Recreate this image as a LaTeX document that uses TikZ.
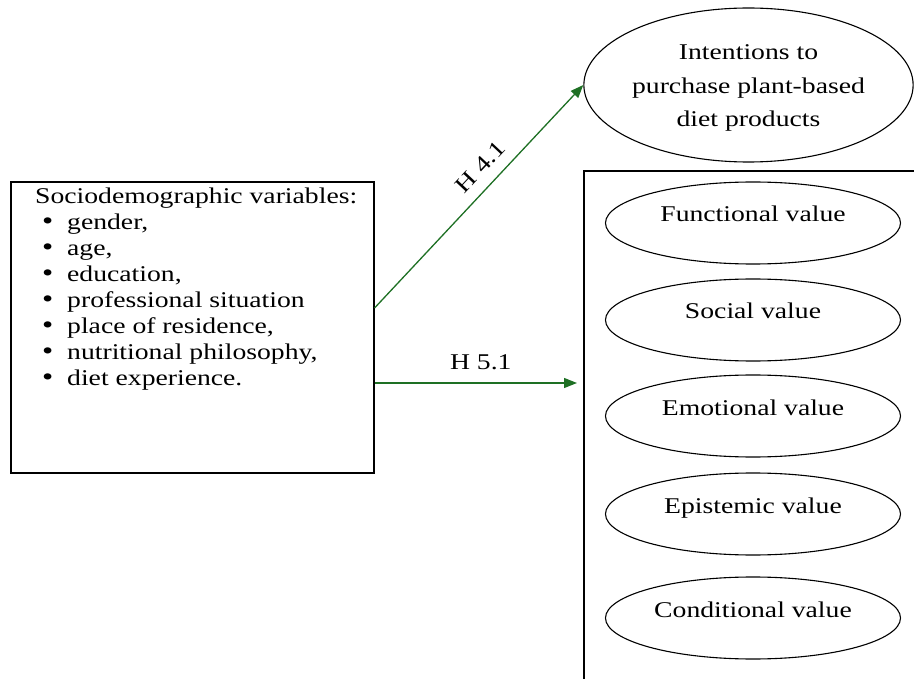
\documentclass[tikz,border=0pt]{standalone}
\usepackage{fontspec}
\setmainfont{Liberation Serif}[FakeStretch=1.23]
\usetikzlibrary{arrows.meta,shapes.geometric}
\definecolor{hypgreen}{RGB}{30,112,36}
\newcommand{\bulletitem}{\makebox[32pt][l]{\hspace{7pt}{\fontsize{26}{26}\selectfont\textbullet}}}
\begin{document}
\begin{tikzpicture}[x=1pt,y=-1pt,
  txt/.style={font=\fontsize{22.5}{26}\selectfont, inner sep=0pt},
  framebox/.style={draw, line width=1.1pt, inner sep=0pt},
  construct/.style={ellipse, draw, line width=1.1pt, inner sep=0pt,
    font=\fontsize{22.5}{26}\selectfont},
  valueell/.style={construct, minimum width=295pt, minimum height=82pt,
    text height=15pt, text depth=17pt},
  hyp/.style={draw=hypgreen, line width=1.3pt,
    -{Triangle[length=13pt,width=10pt]}, fill=none},
  hyplabel/.style={font=\fontsize{22.5}{26}\selectfont, inner sep=0pt, text=black},
]
\useasboundingbox (0,0) rectangle (914,679);
\clip (0,0) rectangle (914,679);

% sociodemographic variables
\node[framebox, minimum width=363pt, minimum height=291pt] (socio) at (192.5,327.5) {};
\node[txt, anchor=north west, align=left] (sociotext) at (35,188)
  {Sociodemographic variables:\\
   \bulletitem gender,\\
   \bulletitem age,\\
   \bulletitem education,\\
   \bulletitem professional situation\\
   \bulletitem place of residence,\\
   \bulletitem nutritional philosophy,\\
   \bulletitem diet experience.};

% purchase intentions
\node[construct, minimum width=327pt, minimum height=154pt, align=center,
  font=\fontsize{22.5}{33.5}\selectfont] (intent) at (748.5,85)
  {\rule{0pt}{21pt}Intentions to\\purchase plant-based\\diet products};

% consumption values (open frame)
\coordinate (valtr) at (914,171);
\coordinate (valtl) at (584,171);
\coordinate (valbl) at (584,679);
\draw[line width=1.1pt] (valtr) -- (valtl) -- (valbl);

\node[valueell] (functional) at (753,223) {Functional value};
\node[valueell] (social) at (753,320) {Social value};
\node[valueell] (emotional) at (753,416) {Emotional value};
\node[valueell] (epistemic) at (753,514) {Epistemic value};
\node[valueell] (conditional) at (753,618) {Conditional value};

% hypotheses
\coordinate (h4start) at (socio.east |- 0,308);
\coordinate (h5start) at (socio.east |- 0,383);
\coordinate (h5end) at (577,383);
\draw[hyp] (h4start) -- (intent.west)
  node[hyplabel, sloped, pos=0.575, above=11pt] (h41) {H 4.1};
\draw[hyp] (h5start) -- (h5end)
  node[hyplabel, pos=0.525, above=12.5pt] (h51) {H 5.1};
\end{tikzpicture}
\end{document}
